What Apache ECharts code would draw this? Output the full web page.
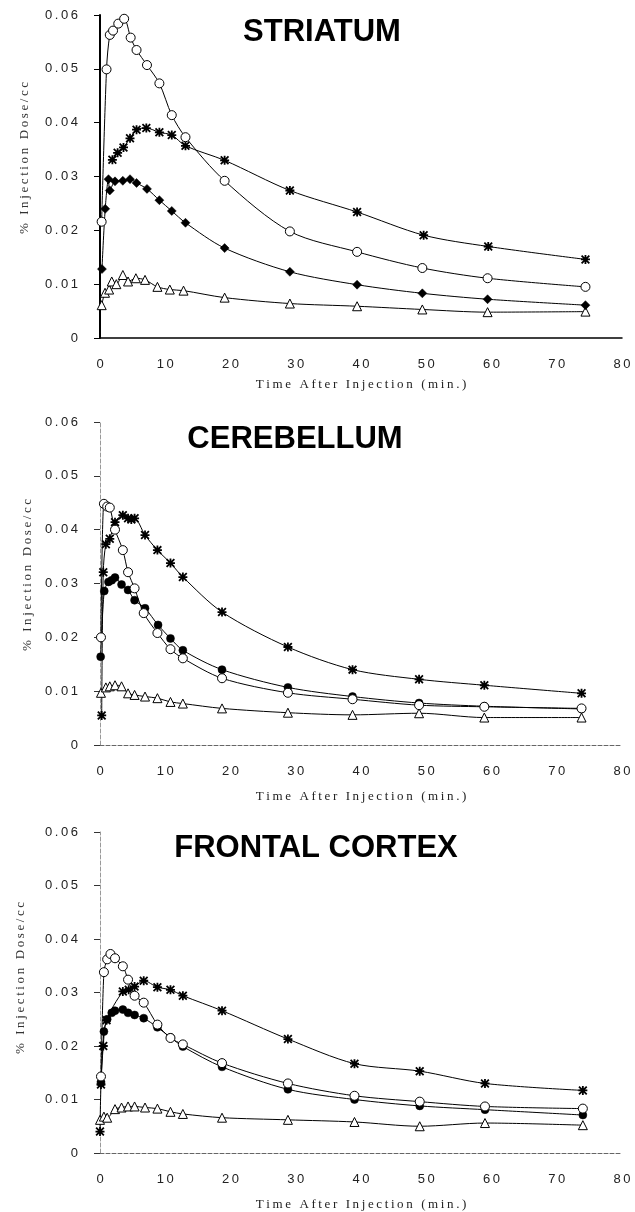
<!DOCTYPE html>
<html>
<head>
<meta charset="utf-8">
<script src="https://cdn.jsdelivr.net/npm/echarts@6/dist/echarts.min.js"></script>
<style>
  html, body { margin: 0; padding: 0; background: #fff; }
  #chart { width: 635px; height: 1212px; }
</style>
</head>
<body>
<div id="chart"></div>
<script>
// panel titles
const panelTitles = ["STRIATUM", "CEREBELLUM", "FRONTAL CORTEX"];
const xTitle = "Time After Injection (min.)";
const yTitle = "% Injection Dose/cc";

// STRIATUM  [min, %dose/cc]
const striatumCircle = [[0.25,0.0216],[1.0,0.0499],[1.5,0.0563],[2.0,0.0571],[2.8,0.0584],[3.7,0.0593],[4.7,0.0558],[5.6,0.0535],[7.2,0.0507],[9.1,0.0473],[11.0,0.0414],[13.1,0.0373],[19.1,0.0292],[29.1,0.0198],[39.4,0.0160],[49.4,0.0130],[59.4,0.0111],[74.4,0.0095]];
const striatumStar = [[1.9,0.0331],[2.7,0.0344],[3.6,0.0354],[4.6,0.0371],[5.6,0.0387],[7.1,0.0390],[9.1,0.0382],[11.0,0.0377],[13.1,0.0357],[19.1,0.0330],[29.1,0.0274],[39.4,0.0234],[49.6,0.0191],[59.5,0.0170],[74.4,0.0146]];
const striatumFilled = [[0.3,0.0128],[0.8,0.0240],[1.3,0.0295],[1.5,0.0274],[2.3,0.0291],[3.5,0.0292],[4.6,0.0295],[5.6,0.0288],[7.2,0.0277],[9.1,0.0256],[11.0,0.0236],[13.1,0.0214],[19.1,0.0167],[29.1,0.0123],[39.4,0.0099],[49.4,0.0083],[59.4,0.0072],[74.4,0.0061]];
const striatumTriangle = [[0.26,0.0061],[0.77,0.0084],[1.4,0.0090],[1.8,0.0105],[2.5,0.0100],[3.5,0.0117],[4.3,0.0105],[5.5,0.0111],[6.9,0.0108],[8.8,0.0095],[10.7,0.0090],[12.8,0.0088],[19.1,0.0075],[29.1,0.0064],[39.4,0.0059],[49.4,0.0053],[59.4,0.0048],[74.4,0.0049]];

// CEREBELLUM
const cerebellumCircle = [[0.15,0.0200],[0.6,0.0448],[1.1,0.0443],[1.5,0.0441],[2.3,0.0400],[3.5,0.0362],[4.3,0.0321],[5.3,0.0291],[6.7,0.0245],[8.8,0.0208],[10.8,0.0178],[12.7,0.0161],[18.7,0.0124],[28.8,0.0097],[38.7,0.0085],[48.9,0.0074],[58.9,0.0071],[73.8,0.0068]];
const cerebellumStar = [[0.26,0.0055],[0.5,0.0321],[0.9,0.0373],[1.5,0.0383],[2.3,0.0414],[3.5,0.0427],[4.3,0.0421],[4.8,0.0419],[5.3,0.0421],[6.9,0.0390],[8.8,0.0362],[10.8,0.0338],[12.7,0.0312],[18.7,0.0247],[28.8,0.0182],[38.7,0.0140],[48.9,0.0122],[58.9,0.0111],[73.8,0.0096]];
const cerebellumFilled = [[0.1,0.0164],[0.65,0.0286],[1.3,0.0303],[1.8,0.0306],[2.3,0.0311],[3.3,0.0298],[4.3,0.0288],[5.3,0.0269],[6.9,0.0254],[8.9,0.0223],[10.8,0.0198],[12.7,0.0176],[18.7,0.0140],[28.8,0.0107],[38.7,0.0090],[48.9,0.0078],[58.9,0.0072],[73.8,0.0067]];
const cerebellumTriangle = [[0.15,0.0097],[0.9,0.0107],[1.5,0.0109],[2.3,0.0111],[3.3,0.0109],[4.3,0.0096],[5.3,0.0093],[6.9,0.0090],[8.8,0.0087],[10.8,0.0080],[12.7,0.0077],[18.7,0.0068],[28.8,0.0060],[38.7,0.0056],[48.9,0.0059],[58.9,0.0051],[73.8,0.0051]];

// FRONTAL CORTEX
const frontalCircle = [[0.15,0.0143],[0.6,0.0338],[1.1,0.0362],[1.6,0.0372],[2.3,0.0364],[3.5,0.0349],[4.3,0.0324],[5.3,0.0294],[6.7,0.0281],[8.8,0.0240],[10.8,0.0215],[12.7,0.0203],[18.7,0.0168],[28.8,0.0130],[39,0.0107],[49,0.0096],[59,0.0087],[74,0.0083]];
const frontalStar = [[0,0.0040],[0.15,0.0128],[0.5,0.0200],[1.0,0.0248],[3.5,0.0302],[4.4,0.0305],[5.3,0.0311],[6.7,0.0322],[8.8,0.0310],[10.8,0.0305],[12.7,0.0294],[18.7,0.0266],[28.8,0.0213],[39,0.0167],[49,0.0153],[59,0.0130],[74,0.0117]];
const frontalFilled = [[0.15,0.0131],[0.6,0.0227],[1.1,0.0250],[1.8,0.0262],[2.3,0.0266],[3.5,0.0268],[4.3,0.0262],[5.3,0.0258],[6.7,0.0252],[8.8,0.0235],[10.8,0.0216],[12.7,0.0199],[18.7,0.0161],[28.8,0.0119],[39,0.0100],[49,0.0088],[59,0.0081],[74,0.0071]];
const frontalTriangle = [[0,0.0062],[0.6,0.0068],[1.1,0.0066],[2.3,0.0082],[3.3,0.0085],[4.3,0.0087],[5.3,0.0087],[6.9,0.0085],[8.8,0.0083],[10.8,0.0077],[12.7,0.0073],[18.7,0.0066],[28.8,0.0062],[39,0.0058],[49,0.0050],[59,0.0056],[74,0.0052]];

// asterisk marker (bold)
const STAR = "path://M4,0H6V10H4Z M0,4H10V6H0Z M1.4,0L10,8.6L8.6,10L0,1.4Z M8.6,0L10,1.4L1.4,10L0,8.6Z M3,3H7V7H3Z";

// the print has wide letter spacing
function spaced(s) {
  return String(s).split("").join("\u2009");
}

const gridTops = [15, 422, 832];
const gridHeights = [323, 323, 322];

function makeSeries(idx, circle, star, filled, triangle, filledSymbol) {
  const base = {
    type: "line",
    xAxisIndex: idx,
    yAxisIndex: idx,
    smooth: 0.3,
    lineStyle: { color: "#000", width: 1 },
    animation: false,
  };
  return [
    Object.assign({}, base, {
      data: triangle, symbol: "triangle", symbolSize: 9,
      itemStyle: { color: "#fff", borderColor: "#000", borderWidth: 1 },
    }),
    Object.assign({}, base, {
      data: filled, symbol: filledSymbol, symbolSize: filledSymbol === "diamond" ? 9 : 8,
      itemStyle: { color: "#000", borderColor: "#000", borderWidth: 0.5 },
    }),
    Object.assign({}, base, {
      data: star, symbol: STAR, symbolSize: 9,
      itemStyle: { color: "#000" },
    }),
    Object.assign({}, base, {
      data: circle, symbol: "circle", symbolSize: 9,
      itemStyle: { color: "#fff", borderColor: "#000", borderWidth: 1 },
    }),
  ];
}

const axisFont = { fontFamily: "Liberation Sans", fontSize: 13, color: "#222" };

const grids = gridTops.map((t, i) => ({ left: 100, top: t, width: 522, height: gridHeights[i] }));

const xAxes = gridTops.map((t, i) => ({
  type: "value",
  gridIndex: i,
  min: 0,
  max: 80,
  interval: 10,
  splitLine: { show: false },
  axisLine: {
    show: true,
    onZero: false,
    lineStyle: i === 0 ? { color: "#000", width: 1.5 } : { color: "#666", width: 1, type: "dashed" },
  },
  axisTick: { show: false },
  axisLabel: Object.assign({ margin: 20, formatter: (v) => spaced(v) }, axisFont),
  name: spaced(xTitle),
  nameLocation: "middle",
  nameGap: i === 0 ? 40 : 45,
  nameTextStyle: { fontFamily: "Liberation Serif", fontSize: 13, color: "#222" },
}));

const yAxes = gridTops.map((t, i) => ({
  type: "value",
  gridIndex: i,
  min: 0,
  max: 0.06,
  interval: 0.01,
  splitLine: { show: false },
  axisLine: {
    show: true,
    onZero: false,
    lineStyle: i === 0 ? { color: "#000", width: 2 } : { color: "#999", width: 1, type: "dashed" },
  },
  axisTick: {
    show: true,
    length: 6,
    lineStyle: { color: i === 0 ? "#000" : "#333", width: 1 },
  },
  axisLabel: Object.assign({
    margin: 22,
    formatter: (v) => spaced(v === 0 ? "0" : v.toFixed(2)),
  }, axisFont),
}));

const titlePos = [[322, 32], [295, 439], [316, 848]];
const yTitlePos = [[25, 158], [28, 575], [21, 978]];

const graphics = [];
panelTitles.forEach((name, i) => {
  graphics.push({
    type: "text",
    x: titlePos[i][0],
    y: titlePos[i][1],
    style: {
      text: name,
      font: 'bold 31px "Liberation Sans"',
      fill: "#000",
      textAlign: "center",
      textVerticalAlign: "middle",
    },
  });
  graphics.push({
    type: "text",
    x: yTitlePos[i][0],
    y: yTitlePos[i][1],
    rotation: Math.PI / 2,
    style: {
      text: spaced(yTitle),
      font: '13px "Liberation Serif"',
      fill: "#333",
      textAlign: "center",
      textVerticalAlign: "middle",
    },
  });
});

const option = {
  backgroundColor: "#fff",
  animation: false,
  grid: grids,
  xAxis: xAxes,
  yAxis: yAxes,
  graphic: graphics,
  series: [].concat(
    makeSeries(0, striatumCircle, striatumStar, striatumFilled, striatumTriangle, "diamond"),
    makeSeries(1, cerebellumCircle, cerebellumStar, cerebellumFilled, cerebellumTriangle, "circle"),
    makeSeries(2, frontalCircle, frontalStar, frontalFilled, frontalTriangle, "circle")
  ),
};

const chart = echarts.init(document.getElementById("chart"), null, { renderer: "canvas" });
chart.setOption(option);
</script>
</body>
</html>
